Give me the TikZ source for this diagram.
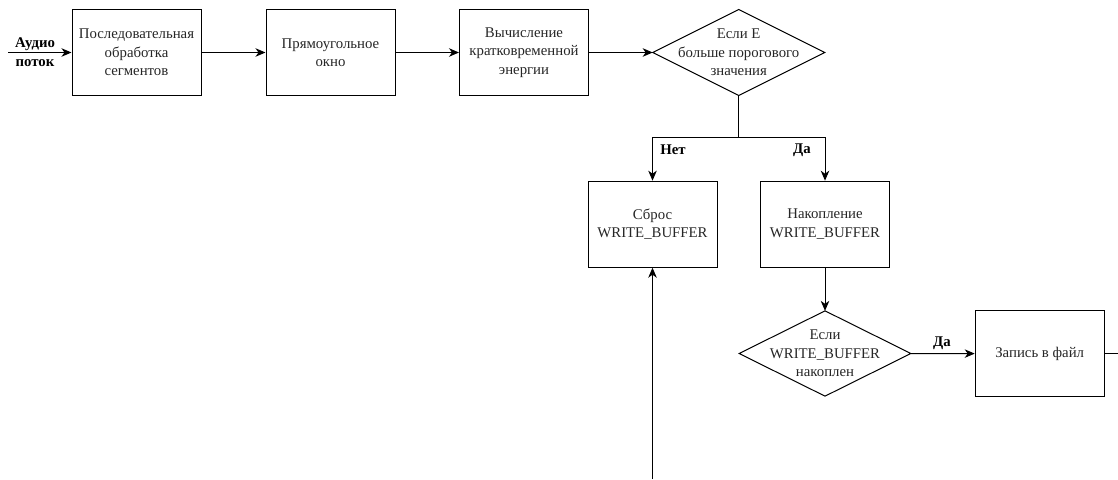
\documentclass[tikz,border=0pt]{standalone}
\usepackage{fontspec}
\setmainfont{Liberation Serif}
\usetikzlibrary{arrows.meta}
\begin{document}
\begin{tikzpicture}[x=1pt,y=-1pt,
  every node/.style={font=\fontsize{14.8}{18.5}\selectfont, text=black!85},
  box/.style={draw, line width=1pt, minimum width=129pt, minimum height=86pt, align=center, inner sep=0pt},
  dia/.style={minimum width=172pt, minimum height=86pt, align=center, inner sep=0pt, outer sep=0pt},
  dshape/.style={line width=1pt, line join=miter},
  conn/.style={line width=1pt, -{Stealth[length=10pt,width=8.5pt,inset=3pt]}},
  lbl/.style={font=\bfseries\fontsize{14.8}{18}\selectfont, text=black, align=center}]
\useasboundingbox (0,0) rectangle (1118,479);
\node[box] (b1) at (136.5,52.5) {Последовательная\\обработка\\сегментов};
\node[box] (b2) at (330.5,52.5) {Прямоугольное\\окно};
\node[box] (b3) at (524,52.5) {Вычисление\\кратковременной\\энергии};
\node[dia] (d1) at (738.7,52.5) {Если E\\больше порогового\\значения};
\draw[dshape] (d1.north) -- (d1.east) -- (d1.south) -- (d1.west) -- cycle;
\node[box] (reset) at (652.5,224.2) {Сброс\\WRITE\_BUFFER};
\node[box] (acc) at (825,224.2) {Накопление\\WRITE\_BUFFER};
\node[dia, minimum width=171.7pt, minimum height=85.3pt] (d2) at (825,353.5) {Если\\WRITE\_BUFFER\\накоплен};
\draw[dshape] (d2.north) -- (d2.east) -- (d2.south) -- (d2.west) -- cycle;
\node[box] (wr) at (1039.7,353.7) {Запись в файл};
\coordinate (in) at (8,52.5);
\coordinate (bot) at (652.5,479);
\coordinate (out) at (1118,353.7);
\coordinate (split) at (738.7,137.3);
\draw[conn] (in) -- (b1);
\node[lbl] at (35,52.5) {Аудио\\[1pt]поток};
\draw[conn] (b1) -- (b2);
\draw[conn] (b2) -- (b3);
\draw[conn] (b3) -- (d1.west);
\draw[line width=1pt] (d1.south) -- (split);
\draw[conn] (split) -| (reset.north);
\draw[conn] (split) -| (acc.north);
\node[lbl] at (673,150) {Нет};
\node[lbl] at (802,150) {Да};
\draw[conn] (acc) -- (d2.north);
\draw[conn] (d2.east) -- (wr);
\node[lbl] at (942,343) {Да};
\draw[line width=1pt] (wr) -- (out);
\draw[conn] (bot) -- (reset);
\end{tikzpicture}
\end{document}
